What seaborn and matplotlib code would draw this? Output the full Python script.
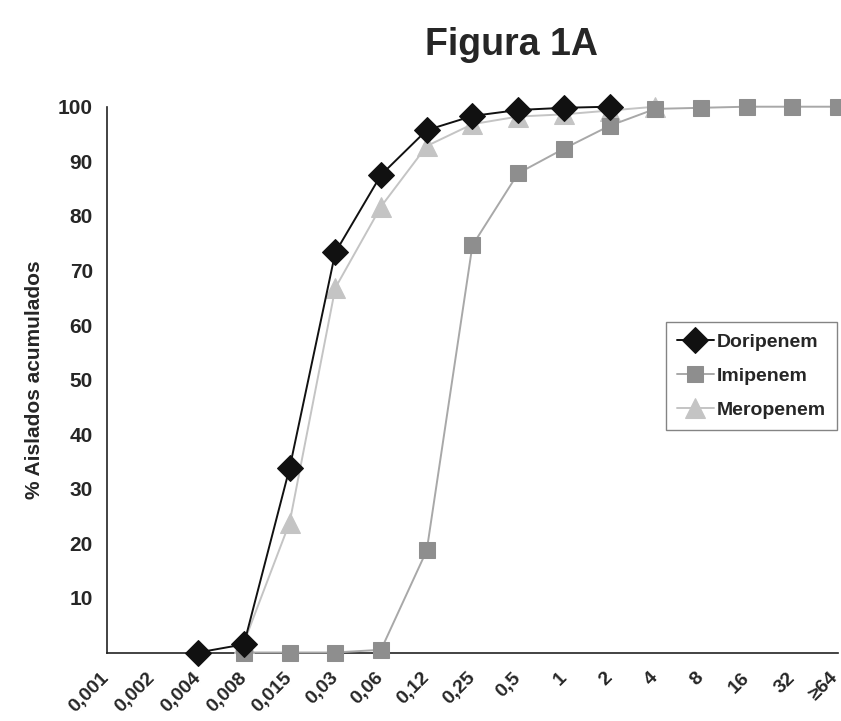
import numpy as np
import pandas as pd
import matplotlib
matplotlib.use("Agg")
import matplotlib.pyplot as plt
import matplotlib.transforms as mtransforms
import seaborn as sns

categories = ["0,001", "0,002", "0,004", "0,008", "0,015", "0,03", "0,06", "0,12",
              "0,25", "0,5", "1", "2", "4", "8", "16", "32", "≥64"]

dori_cats = ["0,004", "0,008", "0,015", "0,03", "0,06", "0,12", "0,25", "0,5", "1", "2"]
dori_vals = [0, 1.5, 33.8, 73.3, 87.5, 95.7, 98.3, 99.4, 99.8, 100]

imi_cats = ["0,008", "0,015", "0,03", "0,06", "0,12", "0,25", "0,5", "1", "2", "4",
            "8", "16", "32", "≥64"]
imi_vals = [0, 0, 0, 0.5, 18.7, 74.6, 87.8, 92.3, 96.5, 99.6, 99.8, 100, 100, 100]

mero_cats = ["0,008", "0,015", "0,03", "0,06", "0,12", "0,25", "0,5", "1", "2", "4"]
mero_vals = [1.8, 23.8, 66.8, 81.7, 92.8, 96.8, 98.2, 98.6, 99.3, 100]

yticks = [10, 20, 30, 40, 50, 60, 70, 80, 90, 100]

sns.set_theme(style="white")
plt.rcParams["font.family"] = ["Liberation Sans", "DejaVu Sans"]

fig = plt.figure(figsize=(8.41, 7.21), dpi=100)
ax = fig.add_axes([0.127, 0.095, 0.8695, 0.757])

def make_df(cats, vals):
    return pd.DataFrame({"x": [categories.index(c) for c in cats], "y": vals})

styles = {
    "Doripenem": (dori_cats, dori_vals, "#111111", "#111111", "D", 13, 5),
    "Imipenem": (imi_cats, imi_vals, "#a8a8a8", "#8e8e8e", "s", 12, 4),
    "Meropenem": (mero_cats, mero_vals, "#c4c4c4", "#c4c4c4", "^", 14, 3),
}
for name in ["Meropenem", "Imipenem", "Doripenem"]:
    cats, vals, lc, mc, mk, ms, z = styles[name]
    d = make_df(cats, vals)
    sns.lineplot(data=d, x="x", y="y", ax=ax, color=lc, linewidth=1.4,
                 marker=mk, markersize=ms, markerfacecolor=mc, markeredgecolor=mc,
                 label=name, clip_on=False, zorder=z)

ax.set_xlim(0, len(categories) - 1)
ax.set_ylim(0, 100)
ax.set_xticks(range(len(categories)))
ax.set_yticks(yticks)
ax.tick_params(axis="both", length=0, pad=10)
ax.tick_params(axis="x", pad=12)
ax.set_xticklabels(categories, rotation=45, ha="right", rotation_mode="anchor",
                   fontsize=14, fontweight="bold")
ax.set_yticklabels([str(v) for v in yticks], fontsize=15, fontweight="bold")
xlabels = ax.get_xticklabels()
for i, lbl in enumerate(xlabels):
    dx = -6 if i < len(xlabels) - 1 else -9
    offset = mtransforms.ScaledTranslation(dx / 100, 0, fig.dpi_scale_trans)
    lbl.set_transform(lbl.get_transform() + offset)
ax.set_xlabel("")
ax.set_ylabel("% Aislados acumulados", fontsize=15, fontweight="bold", labelpad=10)

for s in ["top", "right"]:
    ax.spines[s].set_visible(False)
for s in ["left", "bottom"]:
    ax.spines[s].set_color("#222222")
    ax.spines[s].set_linewidth(1.2)

handles, labels = ax.get_legend_handles_labels()
hmap = dict(zip(labels, handles))
names = ["Doripenem", "Imipenem", "Meropenem"]
leg = ax.legend([hmap[n] for n in names], names, loc="upper right",
                bbox_to_anchor=(0.998, 0.605), frameon=True, fancybox=False,
                edgecolor="#666666", prop={"weight": "bold", "size": 14},
                handlelength=1.9, handletextpad=0.15, borderpad=0.55,
                labelspacing=0.85, borderaxespad=0)
leg.get_frame().set_linewidth(1.0)

fig.text(0.608, 0.937, "Figura 1A", ha="center", va="center", fontsize=27,
         fontweight="bold")

fig.savefig("out.png", dpi=100)
